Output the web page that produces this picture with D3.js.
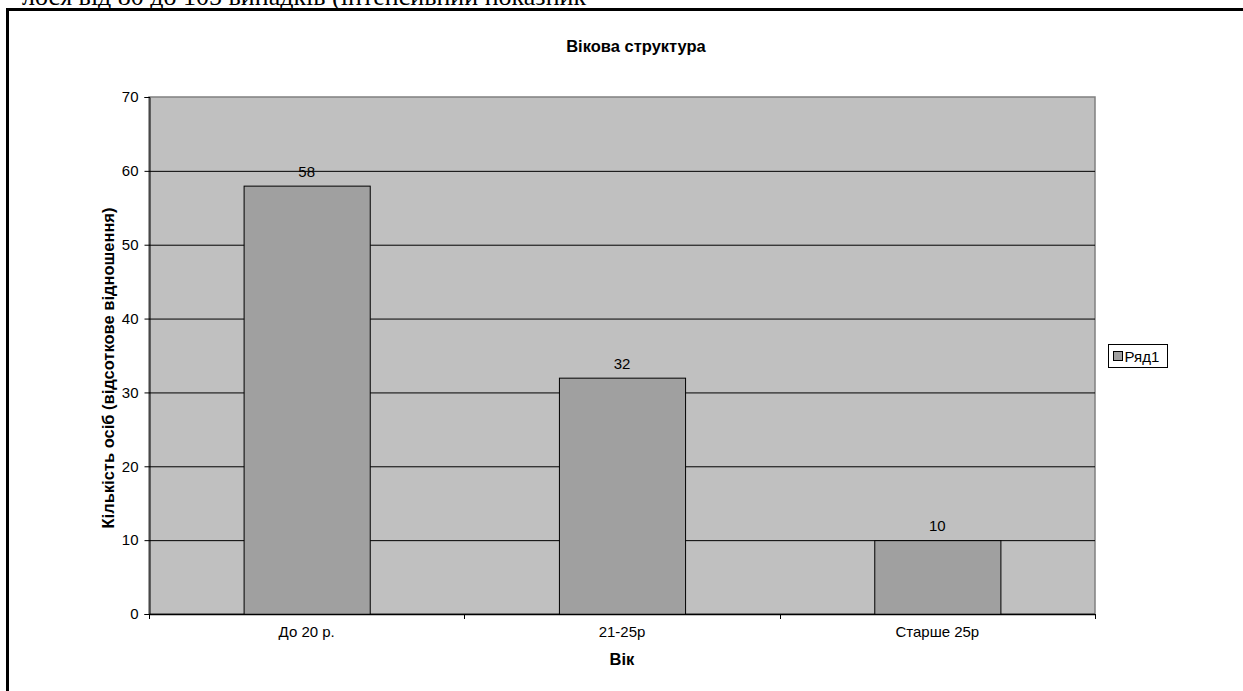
<!DOCTYPE html>
<html><head><meta charset="utf-8">
<script src="https://cdn.jsdelivr.net/npm/d3@7"></script>
<style>body{margin:0;background:#fff;}svg{display:block;}</style>
</head><body>
<script>
const categories = ["До 20 р.", "21-25р", "Старше 25р"];
const values = [58, 32, 10];
const yTicks = [0, 10, 20, 30, 40, 50, 60, 70];
const seriesName = "Ряд1";
const title = "Вікова структура";
const xTitle = "Вік";
const yTitle = "Кількість осіб (відсоткове відношення)";
const topText = "лося від 80 до 105 випадків (інтенсивний показник";

const W = 1243, H = 691;
const svg = d3.select("body").append("svg").attr("width", W).attr("height", H);
const font = "'Liberation Sans', Arial, sans-serif";
const fs = 15, fsb = 16.5;

svg.append("text").attr("x", 22).attr("y", 4.5).attr("font-family", "'Liberation Serif','Times New Roman',serif")
  .attr("font-size", 26).attr("fill", "#000").text(topText);

svg.append("rect").attr("x", 7.5).attr("y", 9.5).attr("width", 1300).attr("height", 720)
  .attr("fill", "#fff").attr("stroke", "#000").attr("stroke-width", 3);

const L = 149, R = 1095, T = 97, B = 614;
const x = d3.scaleBand().domain(categories).range([L, R]).paddingInner(0.6).paddingOuter(0.3);
const y = d3.scaleLinear().domain([0, 70]).range([B, T]);

svg.append("rect").attr("x", L).attr("y", T).attr("width", R - L).attr("height", B - T)
  .attr("fill", "#C0C0C0").attr("stroke", "#808080").attr("stroke-width", 1.5);

svg.append("g").selectAll("line").data(yTicks.filter(d => d > 0 && d < 70)).join("line")
  .attr("x1", L).attr("x2", R).attr("y1", d => y(d) + 0.5).attr("y2", d => y(d) + 0.5)
  .attr("stroke", "#000").attr("stroke-width", 1);

svg.append("g").selectAll("rect").data(values).join("rect")
  .attr("x", (d, i) => x(categories[i]) + 0.5).attr("y", d => y(d) + 0.5)
  .attr("width", x.bandwidth()).attr("height", d => B - y(d))
  .attr("fill", "#A0A0A0").attr("stroke", "#000").attr("stroke-width", 1);

svg.append("g").selectAll("text").data(values).join("text")
  .attr("x", (d, i) => x(categories[i]) + x.bandwidth() / 2).attr("y", d => y(d) - 9)
  .attr("text-anchor", "middle").attr("font-family", font).attr("font-size", fs).text(d => d);

const yAxis = svg.append("g").attr("transform", `translate(${L + 0.5},0)`)
  .call(d3.axisLeft(y).tickValues(yTicks).tickSize(5).tickPadding(6).tickFormat(d3.format("d")));
yAxis.select(".domain").attr("stroke", "#000");
yAxis.selectAll("text").attr("font-family", font).attr("font-size", fs).attr("fill", "#000");

const xBoundaries = [L, L + (R - L) / 3, L + 2 * (R - L) / 3, R];
const xAxis = svg.append("g");
xAxis.append("line").attr("x1", L).attr("x2", R).attr("y1", B + 0.5).attr("y2", B + 0.5).attr("stroke", "#000").attr("stroke-width", 1.5);
xAxis.selectAll("line.t").data(xBoundaries).join("line").attr("class", "t")
  .attr("x1", d => Math.round(d) + 0.5).attr("x2", d => Math.round(d) + 0.5).attr("y1", B).attr("y2", B + 5).attr("stroke", "#000");
xAxis.selectAll("text").data(categories).join("text")
  .attr("x", d => x(d) + x.bandwidth() / 2).attr("y", B + 23)
  .attr("text-anchor", "middle").attr("font-family", font).attr("font-size", fs).text(d => d);

svg.append("text").attr("x", (L + R) / 2 + 14).attr("y", 52).attr("text-anchor", "middle")
  .attr("font-family", font).attr("font-size", fsb).attr("font-weight", "bold").text(title);
svg.append("text").attr("x", (L + R) / 2).attr("y", 665).attr("text-anchor", "middle")
  .attr("font-family", font).attr("font-size", fsb).attr("font-weight", "bold").text(xTitle);
svg.append("text").attr("transform", `translate(114,368) rotate(-90)`).attr("text-anchor", "middle")
  .attr("font-family", font).attr("font-size", fsb).attr("font-weight", "bold").text(yTitle);

const lg = svg.append("g").attr("transform", "translate(1108.5,344.5)");
lg.append("rect").attr("width", 59).attr("height", 23).attr("fill", "#fff").attr("stroke", "#000");
lg.append("rect").attr("x", 5).attr("y", 7).attr("width", 9).attr("height", 9).attr("fill", "#A0A0A0").attr("stroke", "#000");
lg.append("text").attr("x", 16).attr("y", 17).attr("font-family", font).attr("font-size", fs).text(seriesName);
</script>
</body></html>
